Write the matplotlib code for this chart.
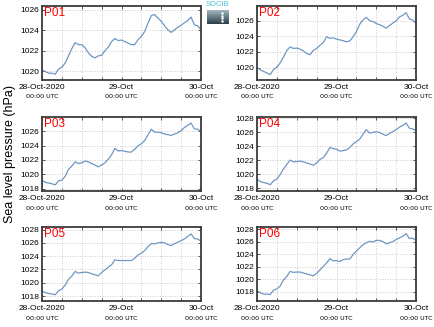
import numpy as np
import matplotlib
matplotlib.use("Agg")
import matplotlib.pyplot as plt
from matplotlib.transforms import blended_transform_factory

# ---------------- data ----------------
hours = list(range(49))  # hours since 28-Oct-2020 00:00 UTC

p01 = [1020.1, 1019.95, 1019.8, 1019.8, 1019.7, 1020.2, 1020.4, 1020.8, 1021.5, 1022.2,
       1022.8, 1022.6, 1022.6, 1022.3, 1021.8, 1021.45, 1021.3, 1021.5, 1021.55, 1022.0,
       1022.35, 1022.9, 1023.2, 1023.0, 1023.05, 1022.9, 1022.75, 1022.6, 1022.6, 1023.1,
       1023.4, 1023.9, 1024.7, 1025.45, 1025.55, 1025.2, 1024.9, 1024.45, 1024.05, 1023.8,
       1024.05, 1024.3, 1024.5, 1024.75, 1024.95, 1025.3, 1024.55, 1024.45, 1024.05]
p02 = [1020.05, 1019.7, 1019.5, 1019.3, 1019.1, 1019.75, 1020.05, 1020.6, 1021.35, 1022.2,
       1022.65, 1022.45, 1022.5, 1022.35, 1022.15, 1021.8, 1021.65, 1022.2, 1022.45, 1022.85,
       1023.2, 1023.95, 1023.75, 1023.8, 1023.65, 1023.55, 1023.45, 1023.3, 1023.4, 1023.95,
       1024.6, 1025.55, 1026.1, 1026.45, 1026.0, 1025.9, 1025.65, 1025.5, 1025.3, 1025.05,
       1025.4, 1025.7, 1026.0, 1026.5, 1026.7, 1027.05, 1026.25, 1026.1, 1025.7]
p03 = [1019.2, 1018.9, 1018.8, 1018.7, 1018.55, 1019.1, 1019.2, 1019.75, 1020.7, 1021.15,
       1021.75, 1021.5, 1021.6, 1021.85, 1021.75, 1021.5, 1021.3, 1021.05, 1021.3, 1021.6,
       1022.1, 1022.7, 1023.6, 1023.25, 1023.3, 1023.2, 1023.1, 1023.1, 1023.5, 1023.95,
       1024.25, 1024.7, 1025.5, 1026.25, 1025.85, 1025.85, 1025.75, 1025.6, 1025.5, 1025.4,
       1025.6, 1025.75, 1026.05, 1026.5, 1026.8, 1027.1, 1026.3, 1026.25, 1025.95]
p04 = [1019.3, 1018.95, 1018.8, 1018.7, 1018.5, 1019.05, 1019.3, 1019.95, 1020.75, 1021.4,
       1022.0, 1021.75, 1021.8, 1021.85, 1021.75, 1021.6, 1021.45, 1021.25, 1021.6, 1022.1,
       1022.35, 1023.0, 1023.8, 1023.65, 1023.55, 1023.3, 1023.35, 1023.45, 1023.8, 1024.3,
       1024.65, 1025.0, 1025.7, 1026.35, 1025.85, 1025.95, 1026.05, 1025.95, 1025.7, 1025.5,
       1025.8, 1026.05, 1026.35, 1026.7, 1026.95, 1027.3, 1026.55, 1026.45, 1026.2]
p05 = [1018.75, 1018.5, 1018.4, 1018.3, 1018.2, 1018.8, 1019.05, 1019.65, 1020.5, 1021.0,
       1021.7, 1021.45, 1021.55, 1021.6, 1021.55, 1021.35, 1021.2, 1021.05, 1021.55, 1021.95,
       1022.35, 1022.7, 1023.45, 1023.35, 1023.35, 1023.35, 1023.35, 1023.35, 1023.7, 1024.2,
       1024.45, 1024.85, 1025.45, 1025.9, 1025.85, 1026.0, 1026.1, 1026.0, 1025.75, 1025.6,
       1025.9, 1026.1, 1026.35, 1026.6, 1027.0, 1027.35, 1026.65, 1026.6, 1026.25]
p06 = [1018.1, 1017.85, 1017.6, 1017.6, 1017.55, 1018.25, 1018.45, 1018.9, 1019.9, 1020.45,
       1021.25, 1021.1, 1021.15, 1021.15, 1021.0, 1020.85, 1020.7, 1020.55, 1020.95, 1021.5,
       1022.05, 1022.6, 1023.3, 1022.95, 1023.0, 1022.85, 1023.15, 1023.25, 1023.25, 1023.95,
       1024.5, 1025.05, 1025.55, 1025.85, 1026.1, 1026.0, 1026.25, 1026.25, 1026.05, 1025.7,
       1025.85, 1026.05, 1026.4, 1026.65, 1026.9, 1027.35, 1026.55, 1026.6, 1026.25]

names = ["P01", "P02", "P03", "P04", "P05", "P06"]
series = [p01, p02, p03, p04, p05, p06]
ylims = [(1019.13, 1026.39), (1018.4, 1027.9), (1017.7, 1027.95),
         (1017.6, 1028.15), (1017.25, 1028.4), (1016.5, 1028.4)]
xtick_top = ["28-Oct-2020", "29-Oct", "30-Oct"]
xtick_bottom = ["00:00 UTC", "00:00 UTC", "00:00 UTC"]
ylabel = "Sea level pressure (hPa)"

# ---------------- layout ----------------
W, H = 435, 327
fig = plt.figure(figsize=(W / 100, H / 100), dpi=100)
cols = [(42, 201), (257, 416)]
rows = [(6, 80), (117, 191), (227, 301)]

line_color = "#6e97c3"
frame_color = "#3c3c3c"
grid_color = "#b8b8b8"
FONT = "Liberation Sans"

for i, (name, vals, yl) in enumerate(zip(names, series, ylims)):
    r, c = divmod(i, 2)
    x0, x1 = cols[c]
    y0, y1 = rows[r]
    ax = fig.add_axes([x0 / W, 1 - y1 / H, (x1 - x0) / W, (y1 - y0) / H])
    ax.plot(hours, vals, color=line_color, lw=0.9)
    ax.set_xlim(0, 48)
    ax.set_ylim(*yl)
    ax.set_xticks(np.arange(0, 49, 6))
    ax.set_xticklabels([])
    lo = int(np.ceil(yl[0] / 2.0) * 2)
    yt = np.arange(lo, yl[1] + 0.001, 2)
    ax.set_yticks(yt)
    ax.set_yticklabels([f"{int(v)}" for v in yt], fontsize=6, family=FONT)
    ax.tick_params(direction="in", length=2, width=0.6, color=frame_color,
                   top=True, right=True, pad=1.8)
    ax.grid(True, color=grid_color, linestyle=(0, (1, 2)), lw=0.6)
    for s in ax.spines.values():
        s.set_color(frame_color)
        s.set_linewidth(1.3)
    ax.text(0.012, 0.98, name, transform=ax.transAxes, color="red",
            fontsize=8.5, family=FONT, va="top", ha="left")
    tr = blended_transform_factory(ax.transData, ax.transAxes)
    h_ax = (y1 - y0)
    for xv, t1, t2 in zip([0, 24, 48], xtick_top, xtick_bottom):
        ax.text(xv, -8.0 / h_ax, t1, transform=tr, ha="center", va="center",
                fontsize=6, family=FONT, clip_on=False)
        ax.text(xv, -17.0 / h_ax, t2, transform=tr, ha="center", va="center",
                fontsize=4.6, family="DejaVu Sans", clip_on=False)

fig.text(10.5 / W, 1 - 154 / H, ylabel, rotation=90, ha="center", va="center",
         fontsize=9, family=FONT)

# small logo between the top panels
lax = fig.add_axes([207 / W, 1 - 24 / H, 22 / W, 14 / H])
grad = np.linspace(0, 1, 20).reshape(-1, 1)
lax.imshow(grad, aspect="auto", cmap=matplotlib.colors.LinearSegmentedColormap.from_list(
    "g", ["#9fb6bf", "#2e3f4a"]), extent=(0, 1, 0, 1), origin="upper")
lax.plot([0.7, 0.7, 0.7, 0.7], [0.2, 0.4, 0.6, 0.8], "o", color="white", ms=0.8)
lax.set_axis_off()
fig.text(218 / W, 1 - 5 / H, "SOCIB", ha="center", va="center", fontsize=5.5,
         family=FONT, color="#45c6d8")

fig.savefig("out.png", dpi=100)
